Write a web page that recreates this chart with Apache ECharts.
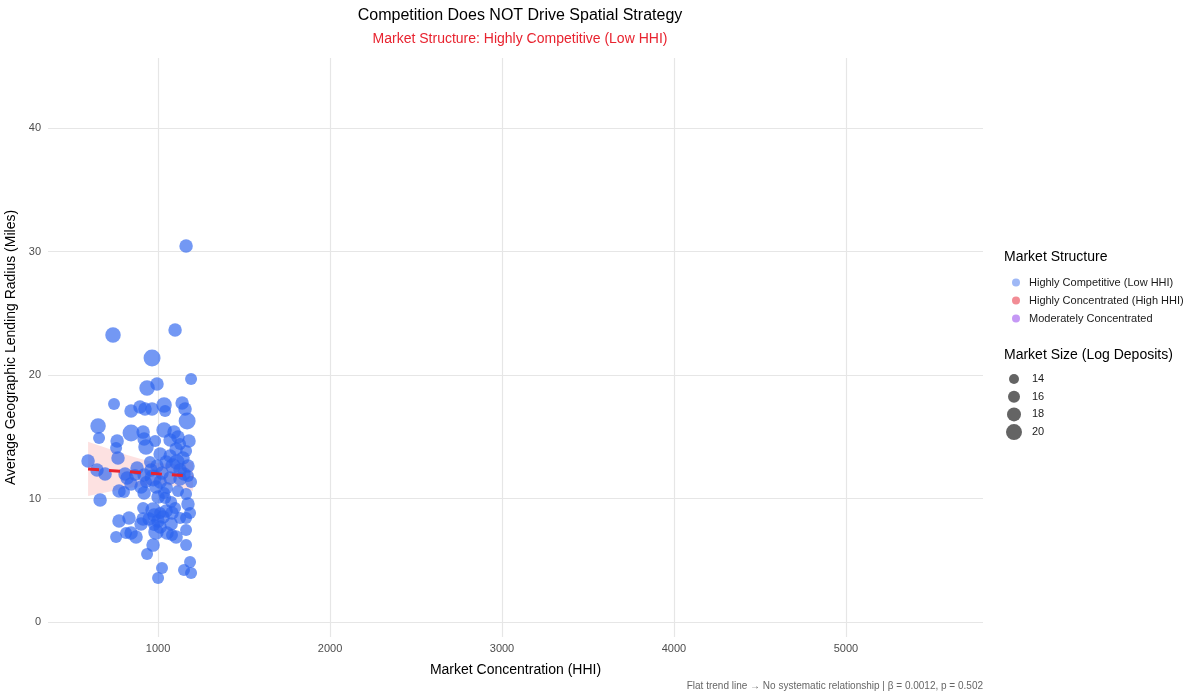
<!DOCTYPE html>
<html>
<head>
<meta charset="utf-8">
<script src="https://cdn.jsdelivr.net/npm/echarts@6/dist/echarts.min.js"></script>
<style>html,body{margin:0;padding:0;background:#fff}#chart{width:1200px;height:700px}</style>
</head>
<body>
<div id="chart"></div>
<script>
// ---- Data ----
const hhi = [1163,738,1099,965,1192,994,936,744,1140,1035,895,843,924,965,1041,1157,1169,651,843,1035,913,1093,1116,657,762,919,1070,1180,983,1128,756,930,1105,1163,1012,767,1070,1145,593,1047,1110,1174,645,959,994,1087,692,808,866,919,1023,1151,820,930,971,1070,1174,1128,843,988,901,1052,773,802,919,1035,1116,663,1000,1041,1076,1163,913,971,1012,913,977,1047,1099,1174,773,831,948,1000,1029,1128,1081,1186,1163,901,977,1076,1012,988,1052,843,814,872,756,1105,1081,1163,971,1163,936,1023,1186,1151,1000,1192,1012,878,953,1128,1192];
const radius = [30.45,23.24,23.64,21.38,19.68,19.27,18.95,17.65,17.73,17.57,17.41,17.09,17.25,17.25,17.09,17.25,16.28,15.87,15.30,15.55,15.38,15.38,14.98,14.90,14.66,14.82,14.74,14.66,14.66,14.41,14.09,14.17,14.01,13.85,13.60,13.28,13.44,13.28,13.04,12.96,12.96,12.63,12.31,12.31,12.63,12.63,11.98,11.98,11.90,11.90,12.06,11.98,11.66,11.34,11.66,11.66,11.82,11.58,11.17,10.93,10.93,10.85,10.61,10.53,10.45,10.45,10.61,9.88,10.12,10.04,9.72,10.36,9.23,9.07,8.83,8.34,8.66,8.99,9.23,9.55,8.18,8.42,8.34,8.18,8.50,8.42,8.83,8.83,8.42,7.94,7.85,7.94,7.69,7.29,7.21,7.21,7.21,6.88,6.88,6.88,7.04,7.45,6.23,6.23,5.51,4.37,4.86,4.21,3.56,3.97,11.34,12.47,12.96,12.31,11.34];
const logDeposits = [17.5,19.5,17.5,21,16,17.5,19.5,16,17.5,19.5,17.5,17.5,17.5,17.5,16,17.5,21,19.5,21,19.5,17.5,17.5,17.5,16,17.5,17.5,17.5,17.5,16,16,16,19.5,17.5,16,17.5,17.5,17.5,17.5,17.5,17.5,19.5,17.5,17.5,17.5,17.5,19.5,17.5,17.5,16,17.5,17.5,17.5,17.5,16,21,17.5,16,17.5,17.5,17.5,17.5,16,17.5,16,17.5,16,16,17.5,17.5,16,16,16,16,19.5,16,17.5,17.5,17.5,16,17.5,17.5,17.5,17.5,17.5,17.5,16,17.5,16,16,17.5,16,17.5,17.5,19.5,17.5,17.5,16,17.5,16,17.5,16,16,17.5,16,16,16,16,16,16,16,17.5,17.5,16,17.5,16];

const trendX = [593, 1203];
const trendY = [12.4, 11.8];
const bandX = [593, 700, 800, 900, 1000, 1100, 1203];
const bandUpper = [14.6, 14.1, 13.6, 13.2, 12.85, 12.8, 13.0];
const bandLower = [10.2, 10.5, 10.8, 11.0, 11.15, 11.0, 10.6];

const xTicks = [1000, 2000, 3000, 4000, 5000];
const yTicks = [0, 10, 20, 30, 40];
const sizeLegendValues = [14, 16, 18, 20];
const structureNames = ['Highly Competitive (Low HHI)', 'Highly Concentrated (High HHI)', 'Moderately Concentrated'];

// ---- Build ----
const FONT = 'Liberation Sans, Arial, Helvetica, sans-serif';
const points = hhi.map((x, i) => [x, radius[i], logDeposits[i]]);
const sizeFn = v => 10 + (v - 14) * 1.0;

const polygon = [];
bandX.forEach((x, i) => polygon.push([x, bandUpper[i]]));
for (let i = bandX.length - 1; i >= 0; i--) polygon.push([bandX[i], bandLower[i]]);

const chart = echarts.init(document.getElementById('chart'));

const sizeGraphics = [];
const sizeLegendTop = 379, sizeLegendStep = 17.7;
sizeLegendValues.forEach((v, i) => {
  const cy = sizeLegendTop + i * sizeLegendStep;
  sizeGraphics.push({type: 'circle', shape: {cx: 1014, cy: cy, r: sizeFn(v) / 2},
    style: {fill: 'rgba(40,40,40,0.72)'}});
  sizeGraphics.push({type: 'text', x: 1032, y: cy,
    style: {text: String(v), font: '11px ' + FONT, fill: '#1a1a1a', verticalAlign: 'middle'}});
});

chart.setOption({
  animation: false,
  backgroundColor: '#ffffff',
  textStyle: {fontFamily: FONT},
  title: [
    {text: 'Competition Does NOT Drive Spatial Strategy', left: 515, top: 3, textAlign: 'center',
     textStyle: {fontSize: 16, fontWeight: 'normal', color: '#000', fontFamily: FONT}},
    {text: 'Market Structure: Highly Competitive (Low HHI)', left: 515, top: 27, textAlign: 'center',
     textStyle: {fontSize: 14, fontWeight: 'normal', color: '#e8232f', fontFamily: FONT}}
  ],
  grid: {left: 48, right: 217, top: 58, bottom: 63, containLabel: false, outerBoundsMode: 'none'},
  xAxis: {
    type: 'value', min: 360, max: 5797,
    name: 'Market Concentration (HHI)', nameLocation: 'middle', nameGap: 26,
    nameTextStyle: {fontSize: 14, color: '#000', fontFamily: FONT},
    axisLine: {show: false}, axisTick: {show: false, customValues: xTicks},
    axisLabel: {customValues: xTicks, formatter: v => String(v), fontSize: 11, color: '#4d4d4d', margin: 6, fontFamily: FONT},
    splitLine: {show: true, lineStyle: {color: '#e6e6e6', width: 1.2}}
  },
  yAxis: {
    type: 'value', min: -1.21, max: 45.67,
    name: 'Average Geographic Lending Radius (Miles)', nameLocation: 'middle', nameGap: 24,
    nameTextStyle: {fontSize: 14, color: '#000', fontFamily: FONT},
    axisLine: {show: false}, axisTick: {show: false, customValues: yTicks},
    axisLabel: {customValues: yTicks, formatter: v => String(v), fontSize: 11, color: '#4d4d4d', margin: 7, fontFamily: FONT},
    splitLine: {show: true, lineStyle: {color: '#e6e6e6', width: 1.2}}
  },
  legend: {
    orient: 'vertical', left: 1007, top: 272, itemWidth: 8, itemHeight: 8, itemGap: 7,
    icon: 'circle', textStyle: {fontSize: 11, color: '#1a1a1a', fontFamily: FONT, padding: [0, 0, 0, 4]},
    data: [
      {name: structureNames[0], itemStyle: {color: '#6d93f2'}},
      {name: structureNames[1], itemStyle: {color: '#ef6f7a'}},
      {name: structureNames[2], itemStyle: {color: '#b77ef2'}}
    ],
    selectedMode: false
  },
  graphic: [
    {type: 'text', x: 1004, y: 250, style: {text: 'Market Structure', font: '14px ' + FONT, fill: '#000'}},
    {type: 'text', x: 1004, y: 348, style: {text: 'Market Size (Log Deposits)', font: '14px ' + FONT, fill: '#000'}},
    {type: 'text', x: 983, y: 686, style: {text: 'Flat trend line \u2192 No systematic relationship | \u03b2 = 0.0012, p = 0.502',
      font: '10px ' + FONT, fill: '#666', align: 'right', verticalAlign: 'middle'}}
  ].concat(sizeGraphics),
  series: [
    {
      name: structureNames[0], type: 'scatter', data: points,
      symbolSize: v => sizeFn(v[2]),
      itemStyle: {color: '#2a62ee', opacity: 0.66},
      z: 3
    },
    {name: structureNames[1], type: 'scatter', data: [], itemStyle: {color: '#e8303f'}},
    {name: structureNames[2], type: 'scatter', data: [], itemStyle: {color: '#9b4bea'}},
    {
      type: 'custom', data: polygon, z: 2, silent: true,
      renderItem: function (params, api) {
        if (params.dataIndex !== 0) return null;
        const pts = polygon.map(p => api.coord(p));
        return {type: 'polygon', shape: {points: pts}, style: {fill: 'rgba(245,120,120,0.22)'}};
      }
    },
    {
      type: 'line', data: trendX.map((x, i) => [x, trendY[i]]), symbol: 'none', z: 4,
      lineStyle: {color: '#e8232f', width: 3, type: [11, 10]}
    }
  ]
});
</script>
</body>
</html>
